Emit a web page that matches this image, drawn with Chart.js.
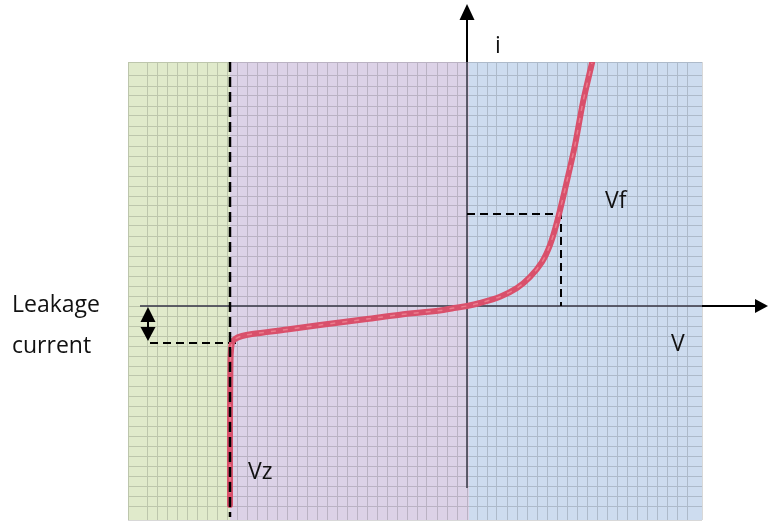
<!DOCTYPE html>
<html>
<head>
<meta charset="utf-8">
<script src="https://cdn.jsdelivr.net/npm/chart.js@4/dist/chart.umd.min.js"></script>
<style>
  body { margin: 0; background: #fff; }
  canvas { display: block; }
</style>
</head>
<body>
<canvas id="diodeChart" width="768" height="524"></canvas>
<script>
// diode I-V curve, V in grid units, i in grid units
const curveV = [-23.7, -23.7, -23.65, -23.6, -23.5, -23.2, -22.5, -21.5, -18, -14.7, -10, -6.7, -2.7, -1.3, 0,
  1.3, 3.3, 5.0, 6.3, 7.5, 8.3, 9.0, 9.97, 10.8, 11.6, 12.5];
const curveI = [-19.9, -11.4, -5.4, -4.4, -3.7, -3.3, -3.0, -2.8, -2.35, -1.9, -1.3, -0.87, -0.45, -0.2, 0,
  0.3, 0.93, 1.8, 2.9, 4.4, 6.1, 8.4, 12.4, 16.1, 20.4, 24.3];

const vz = -23.7;          // breakdown voltage
const vfVoltage = 9.4;     // forward voltage
const vfCurrent = 9.2;
const leakage = -3.7;      // leakage current level

const xRange = [-33.9, 23.5];
const yRange = [-21.4, 24.4];
const regionEdges = [-33.9, -23.7, 0.2, 23.5];
const regionColors = ['#e0eacb', '#dcd2e7', '#cddcef'];

const labels = ['Leakage', 'current', 'i', 'Vf', 'V', 'Vz'];

const curvePoints = curveV.map((v, k) => ({ x: v, y: curveI[k] }));

// paints regions, axes, arrows and text
const diagramPlugin = {
  id: 'diagram',
  beforeDraw(chart) {
    const ctx = chart.ctx;
    ctx.save();
    ctx.fillStyle = '#fff';
    ctx.fillRect(0, 0, chart.width, chart.height);
    ctx.restore();
  },
  beforeDatasetsDraw(chart) {
    const { ctx, chartArea: a, scales: { x, y } } = chart;
    ctx.save();
    ctx.globalCompositeOperation = 'multiply';
    for (let k = 0; k < regionColors.length; k++) {
      const l = x.getPixelForValue(regionEdges[k]);
      const r = x.getPixelForValue(regionEdges[k + 1]);
      ctx.fillStyle = regionColors[k];
      ctx.fillRect(l, a.top, r - l, a.bottom - a.top);
    }
    ctx.restore();

    // axes inside the plot (grey)
    const x0 = x.getPixelForValue(0), y0 = y.getPixelForValue(0);
    ctx.save();
    ctx.strokeStyle = 'rgba(70,70,85,0.85)';
    ctx.lineWidth = 2;
    ctx.beginPath();
    ctx.moveTo(x.getPixelForValue(-32.7), y0);
    ctx.lineTo(a.right, y0);
    ctx.moveTo(x0, a.top);
    ctx.lineTo(x0, y.getPixelForValue(-18.2));
    ctx.stroke();
    ctx.restore();
  },
  afterDraw(chart) {
    const { ctx, chartArea: a, scales: { x, y } } = chart;
    const x0 = x.getPixelForValue(0), y0 = y.getPixelForValue(0);
    ctx.save();
    ctx.strokeStyle = '#000';
    ctx.fillStyle = '#000';
    ctx.lineWidth = 2;
    // horizontal axis outside the plot + arrow
    ctx.beginPath();
    ctx.moveTo(a.right, y0);
    ctx.lineTo(chart.width - 10, y0);
    ctx.stroke();
    ctx.beginPath();
    ctx.moveTo(chart.width, y0);
    ctx.lineTo(chart.width - 13, y0 - 7);
    ctx.lineTo(chart.width - 13, y0 + 7);
    ctx.closePath();
    ctx.fill();
    // vertical axis outside the plot + arrow
    ctx.beginPath();
    ctx.moveTo(x0, a.top);
    ctx.lineTo(x0, 16);
    ctx.stroke();
    ctx.beginPath();
    ctx.moveTo(x0, 4);
    ctx.lineTo(x0 - 7.5, 20);
    ctx.lineTo(x0 + 7.5, 20);
    ctx.closePath();
    ctx.fill();

    // leakage double arrow
    const ax = x.getPixelForValue(-31.9);
    const yl = y.getPixelForValue(leakage);
    ctx.beginPath();
    ctx.moveTo(ax, y0 + 10);
    ctx.lineTo(ax, yl - 10);
    ctx.stroke();
    ctx.beginPath();
    ctx.moveTo(ax, y0 + 1);
    ctx.lineTo(ax - 7.5, y0 + 16);
    ctx.lineTo(ax + 7.5, y0 + 16);
    ctx.closePath();
    ctx.fill();
    ctx.beginPath();
    ctx.moveTo(ax, yl - 2);
    ctx.lineTo(ax - 7.5, yl - 16);
    ctx.lineTo(ax + 7.5, yl - 16);
    ctx.closePath();
    ctx.fill();

    // text
    ctx.font = '23px "Open Sans", sans-serif';
    ctx.textAlign = 'left';
    ctx.textBaseline = 'alphabetic';
    ctx.fillStyle = '#111';
    ctx.fillText(labels[0], 12, 312);
    ctx.fillText(labels[1], 12, 353);
    ctx.fillText(labels[2], x0 + 28, 53);
    ctx.fillText(labels[3], x.getPixelForValue(vfVoltage) + 44, 208);
    ctx.fillText(labels[4], 671, 351);
    ctx.fillText(labels[5], x.getPixelForValue(vz) + 18, 479);
    ctx.restore();
  }
};

new Chart(document.getElementById('diodeChart').getContext('2d'), {
  type: 'scatter',
  data: {
    datasets: [
      {
        // Vz marker line
        data: [{ x: vz, y: yRange[1] }, { x: vz, y: -21.1 }],
        showLine: true,
        borderColor: '#000',
        borderWidth: 2.5,
        borderDash: [10, 5],
        pointRadius: 0
      },
      {
        // light centre of the curve
        data: curvePoints,
        showLine: true,
        borderColor: 'rgba(250,160,170,0.55)',
        borderWidth: 1.5,
        borderDash: [5, 7],
        tension: 0.3,
        pointRadius: 0
      },
      {
        data: curvePoints,
        showLine: true,
        borderColor: '#d9506b',
        borderWidth: 6,
        tension: 0.3,
        borderCapStyle: 'round',
        pointRadius: 0
      },
      {
        // Vf marker
        data: [{ x: 0, y: vfCurrent }, { x: vfVoltage, y: vfCurrent }, { x: vfVoltage, y: 0 }],
        showLine: true,
        borderColor: '#000',
        borderWidth: 2,
        borderDash: [8, 5],
        pointRadius: 0
      },
      {
        // leakage level
        data: [{ x: -31.7, y: leakage }, { x: -22.9, y: leakage }],
        showLine: true,
        borderColor: '#000',
        borderWidth: 2,
        borderDash: [8, 5],
        pointRadius: 0
      }
    ]
  },
  options: {
    responsive: false,
    animation: false,
    layout: { padding: { left: 128, right: 66, top: 62, bottom: 4 } },
    plugins: { legend: { display: false }, tooltip: { enabled: false } },
    scales: {
      x: {
        type: 'linear',
        min: xRange[0],
        max: xRange[1],
        ticks: { display: false, stepSize: 1, maxTicksLimit: 200 },
        grid: { color: '#d8d8d8', lineWidth: 1, drawTicks: false },
        border: { display: false }
      },
      y: {
        type: 'linear',
        min: yRange[0],
        max: yRange[1],
        ticks: { display: false, stepSize: 1, maxTicksLimit: 200 },
        grid: { color: '#d8d8d8', lineWidth: 1, drawTicks: false },
        border: { display: false }
      }
    }
  },
  plugins: [diagramPlugin]
});
</script>
</body>
</html>
